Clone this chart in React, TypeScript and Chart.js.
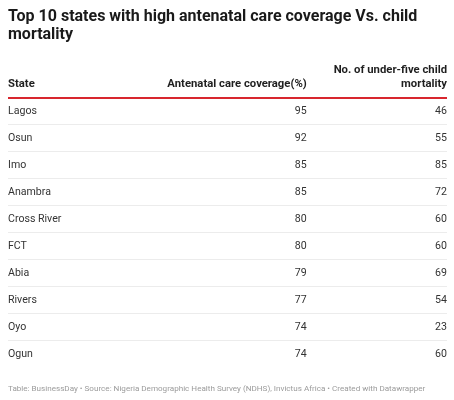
import React, { useEffect, useRef } from "react";
import { Chart, registerables } from "chart.js";

Chart.register(...registerables);

const titleLines = [
  "Top 10 states with high antenatal care coverage Vs. child",
  "mortality",
];
const columnHeaders = [
  ["State"],
  ["Antenatal care coverage(%)"],
  ["No. of under-five child", "mortality"],
];
const states = [
  "Lagos",
  "Osun",
  "Imo",
  "Anambra",
  "Cross River",
  "FCT",
  "Abia",
  "Rivers",
  "Oyo",
  "Ogun",
];
const antenatalCoverage = [95, 92, 85, 85, 80, 80, 79, 77, 74, 74];
const childMortality = [46, 55, 85, 72, 60, 60, 69, 54, 23, 60];
const footerText =
  "Table: BusinessDay \u2022 Source: Nigeria Demographic Health Survey (NDHS), Invictus Africa \u2022 Created with Datawrapper";

const FONT = "Roboto";

const tablePlugin = {
  id: "tableText",
  afterDraw(chart: any) {
    const { ctx, chartArea } = chart;
    const yScale = chart.scales.y;
    const width = chartArea.right - chartArea.left;
    // column anchors (fraction of table width) and alignment
    const cols = [
      { frac: 0, align: "left" },
      { frac: 0.6804, align: "right" },
      { frac: 1, align: "right" },
    ];
    const colX = cols.map((c) => chartArea.left + c.frac * width);

    ctx.save();
    // header row
    ctx.font = `bold 11.3px ${FONT}`;
    ctx.fillStyle = "#1f1f1f";
    ctx.textBaseline = "middle";
    const headerLine = 14;
    const headerBottom = chartArea.top - 13.5;
    columnHeaders.forEach((lines, c) => {
      ctx.textAlign = cols[c].align;
      const n = lines.length;
      lines.forEach((line, k) => {
        ctx.fillText(line, colX[c], headerBottom - (n - 1 - k) * headerLine);
      });
    });

    // body rows
    ctx.font = `10.6px ${FONT}`;
    ctx.fillStyle = "#333333";
    const labels = chart.data.labels as string[];
    labels.forEach((label, i) => {
      const yPix = yScale.getPixelForValue(i);
      ctx.textAlign = "left";
      ctx.fillText(label, colX[0], yPix);
      chart.data.datasets.forEach((ds: any, d: number) => {
        ctx.textAlign = "right";
        ctx.fillText(String(ds.data[i]), colX[d + 1], yPix);
      });
    });
    ctx.restore();
  },
};

export default function App() {
  const canvasRef = useRef<HTMLCanvasElement | null>(null);

  useEffect(() => {
    if (!canvasRef.current) return;
    const chart = new Chart(canvasRef.current, {
      type: "bar",
      data: {
        labels: states,
        datasets: [
          {
            label: columnHeaders[1].join(" "),
            data: antenatalCoverage,
            backgroundColor: "rgba(0,0,0,0)",
            borderWidth: 0,
          },
          {
            label: columnHeaders[2].join(" "),
            data: childMortality,
            backgroundColor: "rgba(0,0,0,0)",
            borderWidth: 0,
          },
        ],
      },
      options: {
        indexAxis: "y",
        animation: false,
        responsive: true,
        maintainAspectRatio: false,
        events: [],
        layout: { padding: { left: 8, right: 7, top: 0, bottom: 0 } },
        scales: {
          x: { display: false, min: 0, max: 100 },
          y: {
            type: "category",
            display: true,
            offset: true,
            border: { display: false },
            ticks: { display: false },
            grid: {
              offset: true,
              drawTicks: false,
              color: (ctx: any) =>
                ctx.index === 0
                  ? "#d8262e"
                  : ctx.index === undefined
                  ? "rgba(0,0,0,0)"
                  : "#ececec",
              lineWidth: (ctx: any) => (ctx.index === 0 ? 2 : 1),
            },
          },
        },
        plugins: {
          legend: { display: false },
          tooltip: { enabled: false },
          title: {
            display: true,
            text: titleLines,
            align: "start",
            color: "#1a1a1a",
            font: { family: FONT, size: 16, weight: "bold", lineHeight: 1.16 },
            padding: { top: 7.3, bottom: 53.1 },
          },
          subtitle: {
            display: true,
            position: "bottom",
            text: footerText,
            align: "start",
            color: "#9b9b9b",
            font: { family: FONT, size: 8.1, lineHeight: 1.2 },
            padding: { top: 16.0, bottom: 6.3 },
          },
        },
      },
      plugins: [tablePlugin],
    });
    return () => chart.destroy();
  }, []);

  return (
    <div
      style={{
        position: "fixed",
        left: 0,
        top: 0,
        width: 454,
        height: 400,
        background: "#ffffff",
      }}
    >
      <canvas ref={canvasRef} />
    </div>
  );
}
